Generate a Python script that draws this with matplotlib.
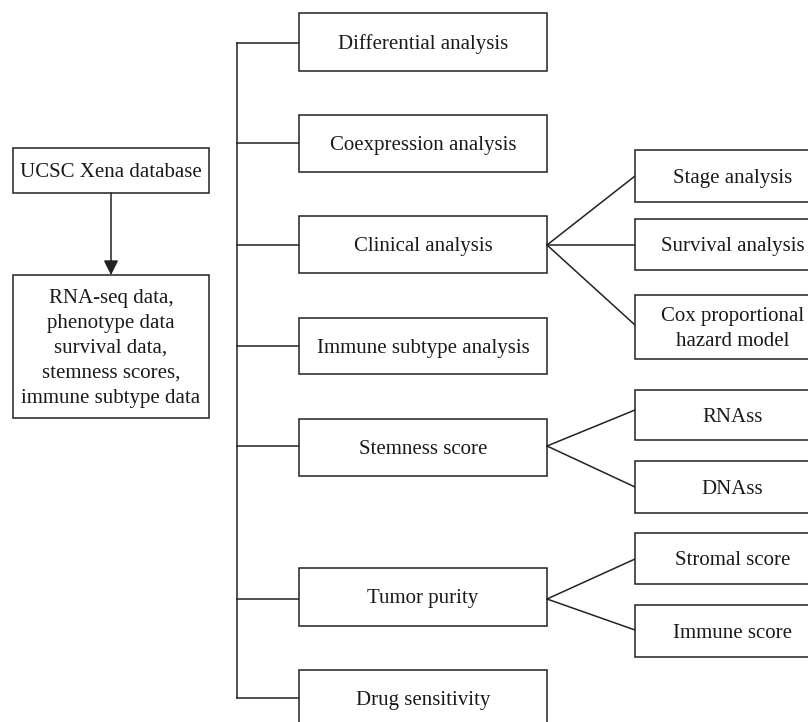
import matplotlib
matplotlib.use("Agg")
import matplotlib.pyplot as plt
from matplotlib.patches import Rectangle

# labels of the flowchart
source_label = "UCSC Xena database"
data_label = "RNA-seq data,\nphenotype data\nsurvival data,\nstemness scores,\nimmune subtype data"
analyses = ["Differential analysis", "Coexpression analysis", "Clinical analysis",
            "Immune subtype analysis", "Stemness score", "Tumor purity", "Drug sensitivity"]
sub_analyses = {
    "Clinical analysis": ["Stage analysis", "Survival analysis", "Cox proportional\nhazard model"],
    "Stemness score": ["RNAss", "DNAss"],
    "Tumor purity": ["Stromal score", "Immune score"],
}

# layout (pixels, y downwards)
mid_x0, mid_x1 = 299, 547
mid_rows = [(13, 71), (115, 172), (216, 273), (318, 374), (419, 476), (568, 626), (670, 726)]
mid_link_y = [43, 143, 245, 346, 446, 599, 698]
right_x0, right_x1 = 635, 830
right_rows = {
    "Clinical analysis": [(150, 202), (219, 270), (295, 359)],
    "Stemness score": [(390, 440), (461, 513)],
    "Tumor purity": [(533, 584), (605, 657)],
}
right_link_y = {
    "Clinical analysis": [176, 245, 325],
    "Stemness score": [410, 487],
    "Tumor purity": [559, 630],
}
trunk_x = 237

lc = "#222222"
lw = 1.1
fs = 15

plt.rcParams['font.family'] = ['Liberation Serif', 'DejaVu Serif']

fig = plt.figure(figsize=(8.08, 7.22), dpi=100)
ax = fig.add_axes([0, 0, 1, 1])
ax.set_xlim(0, 808)
ax.set_ylim(722, 0)
ax.axis('off')


def box(x0, y0, x1, y1, text):
    ax.add_patch(Rectangle((x0, y0), x1 - x0, y1 - y0, facecolor='white',
                           edgecolor=lc, lw=lw, zorder=2))
    ax.text((x0 + x1) / 2, (y0 + y1) / 2 + 2, text, ha='center', va='center',
            fontsize=fs, color='#1a1a1a', linespacing=1.42, zorder=3)


# left column
box(13, 148, 209, 193, source_label)
box(13, 275, 209, 418, data_label)
ax.annotate("", xy=(111, 275), xytext=(111, 193),
            arrowprops=dict(arrowstyle='-|>', color=lc, lw=lw, mutation_scale=22,
                            shrinkA=0, shrinkB=0))

# trunk and middle boxes
ax.plot([trunk_x, trunk_x], [mid_link_y[0], mid_link_y[-1]], color=lc, lw=lw)
for label, (y0, y1), ly in zip(analyses, mid_rows, mid_link_y):
    ax.plot([trunk_x, mid_x0], [ly, ly], color=lc, lw=lw)
    box(mid_x0, y0, mid_x1, y1, label)

# branches to the right
for label, (y0, y1), ly in zip(analyses, mid_rows, mid_link_y):
    if label not in sub_analyses:
        continue
    for sub, (r0, r1), ry in zip(sub_analyses[label], right_rows[label], right_link_y[label]):
        ax.plot([mid_x1, right_x0], [ly, ry], color=lc, lw=lw)
        box(right_x0, r0, right_x1, r1, sub)

fig.savefig("out.png", dpi=100)
